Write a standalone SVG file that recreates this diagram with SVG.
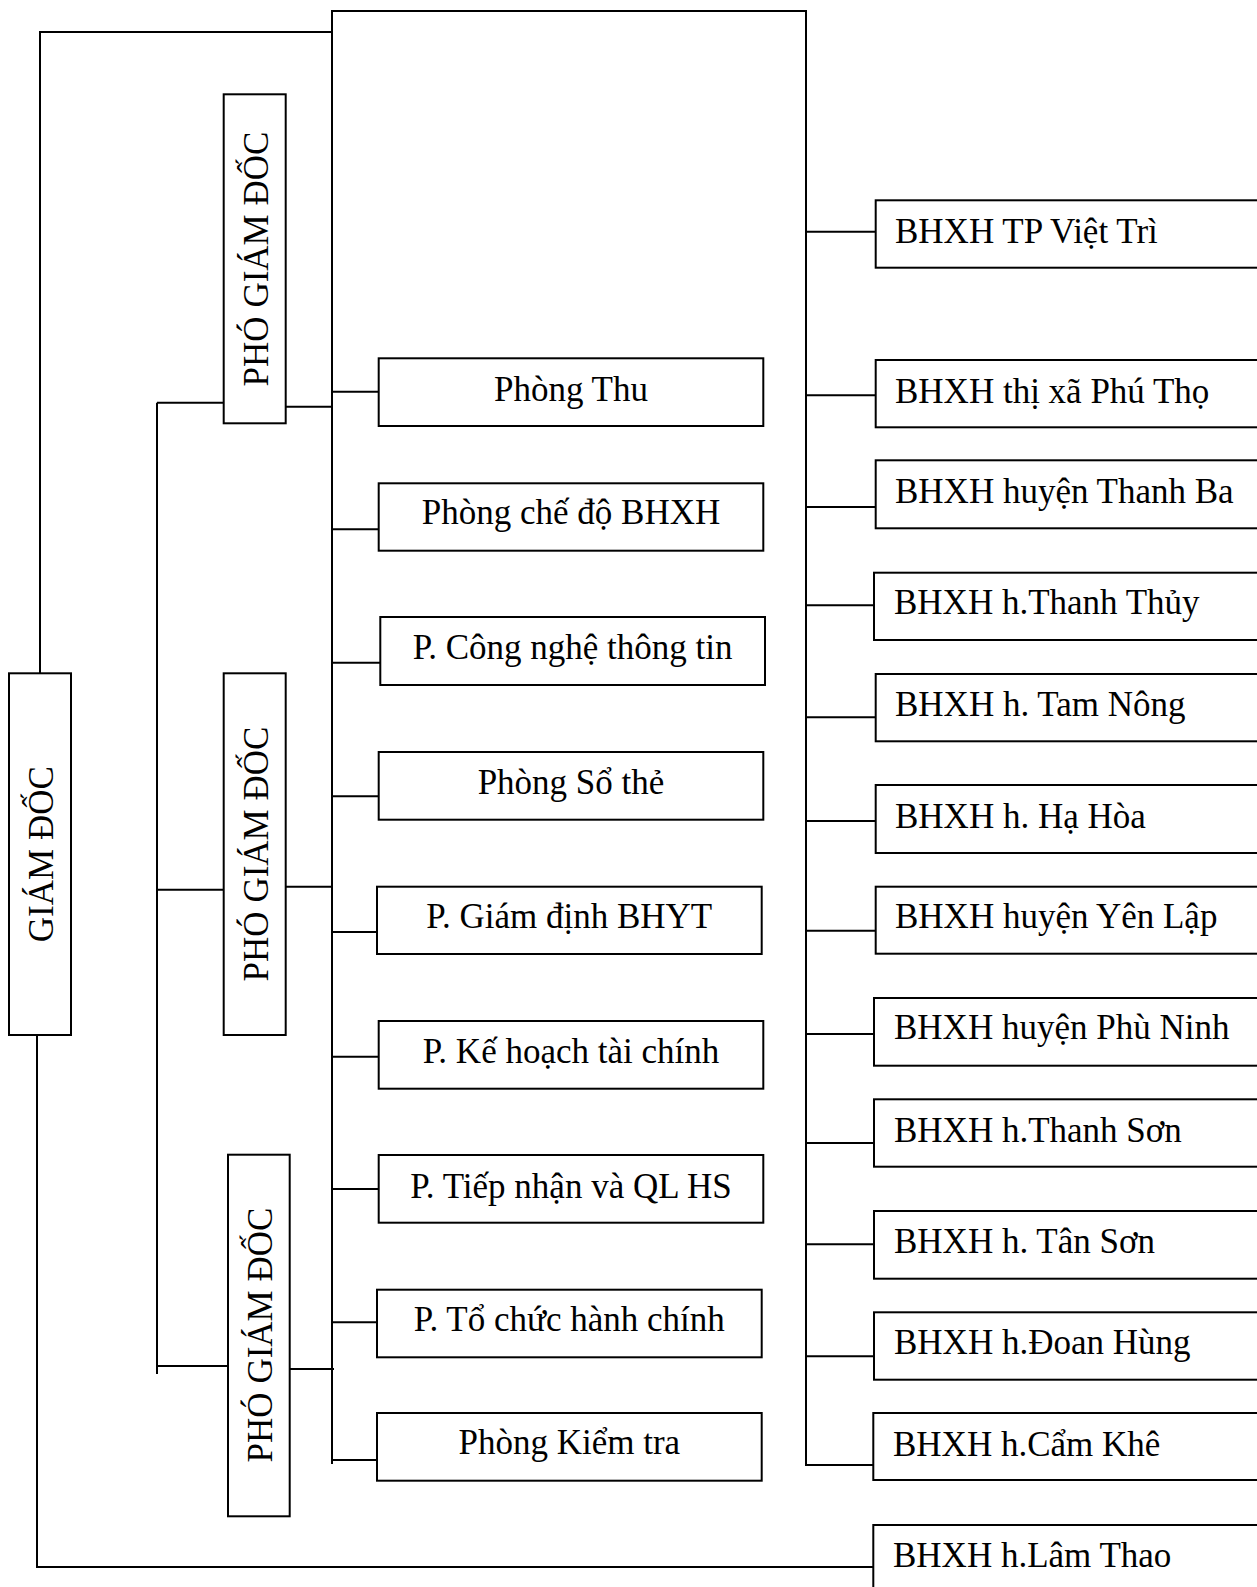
<svg xmlns="http://www.w3.org/2000/svg" width="1257" height="1587" viewBox="0 0 1257 1587">
<style>
.box{fill:#fff;stroke:#000;stroke-width:2}
.ln{fill:none;stroke:#000;stroke-width:2}
.t{font-family:"Liberation Serif","Times New Roman",serif;font-size:35px;fill:#000}
.c{text-anchor:middle}
</style>
<rect width="1257" height="1587" fill="#fff"/>
<g id="connectors" class="ln">
<polyline points="40,673 40,32 332,32"/>
<polyline points="332,1464 332,11 806,11 806,1465 873,1465"/>
<polyline points="37,1035 37,1567 873,1567"/>
<line x1="157" y1="402.7" x2="157" y2="1374"/>
<line x1="157" y1="402.7" x2="224" y2="402.7"/>
<line x1="157" y1="889.7" x2="224" y2="889.7"/>
<line x1="157" y1="1366" x2="228" y2="1366"/>
<line x1="286" y1="406.7" x2="332" y2="406.7"/>
<line x1="286" y1="886.7" x2="332" y2="886.7"/>
<line x1="290" y1="1369" x2="334" y2="1369"/>
<line x1="332" y1="391.7" x2="379" y2="391.7"/>
<line x1="332" y1="529.3" x2="379" y2="529.3"/>
<line x1="332" y1="662.7" x2="380" y2="662.7"/>
<line x1="332" y1="796.3" x2="379" y2="796.3"/>
<line x1="332" y1="932" x2="377" y2="932"/>
<line x1="332" y1="1056.7" x2="379" y2="1056.7"/>
<line x1="332" y1="1189" x2="379" y2="1189"/>
<line x1="332" y1="1322.3" x2="377" y2="1322.3"/>
<line x1="332" y1="1460" x2="377" y2="1460"/>
<line x1="806" y1="231.7" x2="876" y2="231.7"/>
<line x1="806" y1="395.3" x2="876" y2="395.3"/>
<line x1="806" y1="507" x2="876" y2="507"/>
<line x1="806" y1="605.3" x2="874" y2="605.3"/>
<line x1="806" y1="717.3" x2="876" y2="717.3"/>
<line x1="806" y1="821" x2="876" y2="821"/>
<line x1="806" y1="930.7" x2="876" y2="930.7"/>
<line x1="806" y1="1034" x2="874" y2="1034"/>
<line x1="806" y1="1143" x2="874" y2="1143"/>
<line x1="806" y1="1244.3" x2="874" y2="1244.3"/>
<line x1="806" y1="1356.3" x2="874" y2="1356.3"/>
</g>
<g id="giam-doc"><rect class="box" x="9" y="673.3" width="62" height="361.7"/><text class="t c" transform="translate(53.3,854.2) rotate(-90)">GIÁM ĐỐC</text></g>
<g id="pgd1"><rect class="box" x="223.7" y="94.3" width="62" height="329"/><text class="t c" transform="translate(268,259) rotate(-90)">PHÓ GIÁM ĐỐC</text></g>
<g id="pgd2"><rect class="box" x="223.7" y="673.3" width="62" height="361.7"/><text class="t c" transform="translate(268.3,854) rotate(-90)">PHÓ GIÁM ĐỐC</text></g>
<g id="pgd3"><rect class="box" x="228" y="1154.7" width="61.7" height="361.6"/><text class="t c" transform="translate(272.3,1335) rotate(-90)">PHÓ GIÁM ĐỐC</text></g>
<g id="phong-thu"><rect class="box" x="378.7" y="358.3" width="384.6" height="67.7"/><text class="t c" x="571" y="401">Phòng Thu</text></g>
<g id="phong-che-do"><rect class="box" x="378.7" y="483.3" width="384.6" height="67.4"/><text class="t c" x="571" y="524.3">Phòng chế độ BHXH</text></g>
<g id="phong-cntt"><rect class="box" x="380.3" y="617" width="384.7" height="68"/><text class="t c" x="572.6" y="659.3">P. Công nghệ thông tin</text></g>
<g id="phong-so-the"><rect class="box" x="378.7" y="752" width="384.6" height="67.7"/><text class="t c" x="571" y="794">Phòng Sổ thẻ</text></g>
<g id="phong-giam-dinh"><rect class="box" x="377" y="886.7" width="384.7" height="67.3"/><text class="t c" x="569.3" y="928.3">P. Giám định BHYT</text></g>
<g id="phong-ke-hoach"><rect class="box" x="378.7" y="1021" width="384.6" height="67.7"/><text class="t c" x="571" y="1062.7">P. Kế hoạch tài chính</text></g>
<g id="phong-tiep-nhan"><rect class="box" x="378.7" y="1155" width="384.6" height="67.7"/><text class="t c" x="571" y="1197.7">P. Tiếp nhận và QL HS</text></g>
<g id="phong-to-chuc"><rect class="box" x="377" y="1289.7" width="384.7" height="67.6"/><text class="t c" x="569.3" y="1331">P. Tổ chức hành chính</text></g>
<g id="phong-kiem-tra"><rect class="box" x="377" y="1413" width="384.7" height="67.7"/><text class="t c" x="569.3" y="1454.3">Phòng Kiểm tra</text></g>
<g id="viet-tri"><rect class="box" x="875.7" y="200.3" width="420" height="67.4"/><text class="t" x="895" y="242.7">BHXH TP Việt Trì</text></g>
<g id="phu-tho"><rect class="box" x="875.7" y="360" width="420" height="67.3"/><text class="t" x="895" y="402.7">BHXH thị xã Phú Thọ</text></g>
<g id="thanh-ba"><rect class="box" x="875.7" y="460.3" width="420" height="68"/><text class="t" x="895" y="502.7">BHXH huyện Thanh Ba</text></g>
<g id="thanh-thuy"><rect class="box" x="874" y="572.7" width="420" height="67.3"/><text class="t" x="894" y="614.3">BHXH h.Thanh Thủy</text></g>
<g id="tam-nong"><rect class="box" x="875.7" y="674" width="420" height="67.3"/><text class="t" x="895" y="716">BHXH h. Tam Nông</text></g>
<g id="ha-hoa"><rect class="box" x="875.7" y="785" width="420" height="68"/><text class="t" x="895" y="827.7">BHXH h. Hạ Hòa</text></g>
<g id="yen-lap"><rect class="box" x="875.7" y="886.7" width="420" height="67"/><text class="t" x="895" y="927.7">BHXH huyện Yên Lập</text></g>
<g id="phu-ninh"><rect class="box" x="874" y="998" width="420" height="67.7"/><text class="t" x="894" y="1039.3">BHXH huyện Phù Ninh</text></g>
<g id="thanh-son"><rect class="box" x="874" y="1099.3" width="420" height="67.4"/><text class="t" x="894" y="1141.7">BHXH h.Thanh Sơn</text></g>
<g id="tan-son"><rect class="box" x="874" y="1211" width="420" height="67.7"/><text class="t" x="894" y="1253.3">BHXH h. Tân Sơn</text></g>
<g id="doan-hung"><rect class="box" x="874" y="1312.3" width="420" height="67.4"/><text class="t" x="894" y="1354.3">BHXH h.Đoan Hùng</text></g>
<g id="cam-khe"><rect class="box" x="873.3" y="1413" width="420" height="67"/><text class="t" x="893" y="1456">BHXH h.Cẩm Khê</text></g>
<g id="lam-thao"><rect class="box" x="873.3" y="1525" width="420" height="100"/><text class="t" x="893" y="1566.7">BHXH h.Lâm Thao</text></g>
</svg>
